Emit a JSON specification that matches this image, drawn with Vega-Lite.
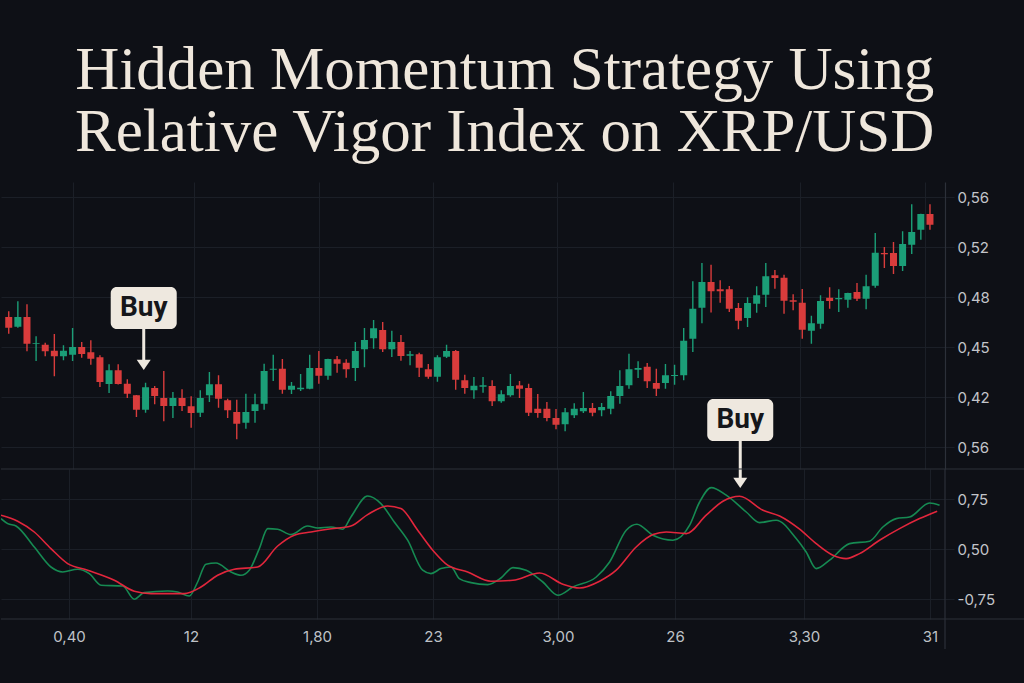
{
  "$schema": "https://vega.github.io/schema/vega-lite/v6.json",
  "background": "#0e1016",
  "padding": {"top": 40, "left": 0, "right": 0, "bottom": 45},
  "bounds": "flush",
  "title": {
    "text": ["Hidden Momentum Strategy Using", "Relative Vigor Index on XRP/USD"],
    "font": "Liberation Serif",
    "fontSize": 61,
    "fontWeight": "normal",
    "color": "#efe7dc",
    "lineHeight": 62,
    "anchor": "middle",
    "dx": -14,
    "offset": 18
  },
  "datasets": {
    "candles": [
      {"t":0,"o":0.464,"h":0.4686,"l":0.4506,"c":0.4554},
      {"t":1,"o":0.4562,"h":0.4766,"l":0.4555,"c":0.464},
      {"t":2,"o":0.464,"h":0.4742,"l":0.4366,"c":0.4426},
      {"t":3,"o":0.4426,"h":0.4486,"l":0.4288,"c":0.4432},
      {"t":4,"o":0.4418,"h":0.4434,"l":0.4326,"c":0.4366},
      {"t":5,"o":0.437,"h":0.4504,"l":0.4166,"c":0.4326},
      {"t":6,"o":0.4326,"h":0.4414,"l":0.4294,"c":0.437},
      {"t":7,"o":0.4338,"h":0.4552,"l":0.4288,"c":0.44},
      {"t":8,"o":0.44,"h":0.444,"l":0.4314,"c":0.4344},
      {"t":9,"o":0.4358,"h":0.4454,"l":0.4258,"c":0.4306},
      {"t":10,"o":0.4318,"h":0.4334,"l":0.408,"c":0.412},
      {"t":11,"o":0.4104,"h":0.4262,"l":0.4032,"c":0.4214},
      {"t":12,"o":0.4214,"h":0.4262,"l":0.41,"c":0.4104},
      {"t":13,"o":0.4106,"h":0.4142,"l":0.3992,"c":0.4026},
      {"t":14,"o":0.4014,"h":0.4016,"l":0.384,"c":0.3898},
      {"t":15,"o":0.3898,"h":0.4114,"l":0.3874,"c":0.4078},
      {"t":16,"o":0.4072,"h":0.4088,"l":0.3942,"c":0.4008},
      {"t":17,"o":0.3992,"h":0.4208,"l":0.3806,"c":0.3928},
      {"t":18,"o":0.3928,"h":0.404,"l":0.3832,"c":0.3992},
      {"t":19,"o":0.3992,"h":0.4062,"l":0.3888,"c":0.3928},
      {"t":20,"o":0.3926,"h":0.4006,"l":0.3754,"c":0.3872},
      {"t":21,"o":0.3874,"h":0.4054,"l":0.384,"c":0.3992},
      {"t":22,"o":0.4014,"h":0.42,"l":0.396,"c":0.4102},
      {"t":23,"o":0.4102,"h":0.4174,"l":0.3914,"c":0.3986},
      {"t":24,"o":0.3974,"h":0.3986,"l":0.3832,"c":0.3894},
      {"t":25,"o":0.388,"h":0.3978,"l":0.3662,"c":0.3786},
      {"t":26,"o":0.3794,"h":0.4026,"l":0.3746,"c":0.388},
      {"t":27,"o":0.3888,"h":0.4026,"l":0.3794,"c":0.3942},
      {"t":28,"o":0.3946,"h":0.4266,"l":0.3898,"c":0.4208},
      {"t":29,"o":0.4218,"h":0.4338,"l":0.4128,"c":0.4226},
      {"t":30,"o":0.4226,"h":0.4304,"l":0.4026,"c":0.4058},
      {"t":31,"o":0.4058,"h":0.412,"l":0.4024,"c":0.409},
      {"t":32,"o":0.4062,"h":0.4184,"l":0.4048,"c":0.4074},
      {"t":33,"o":0.4066,"h":0.4338,"l":0.4062,"c":0.4232},
      {"t":34,"o":0.4232,"h":0.4368,"l":0.4106,"c":0.417},
      {"t":35,"o":0.417,"h":0.4306,"l":0.4138,"c":0.4304},
      {"t":36,"o":0.4302,"h":0.4328,"l":0.4194,"c":0.4266},
      {"t":37,"o":0.4274,"h":0.4302,"l":0.4154,"c":0.4222},
      {"t":38,"o":0.4232,"h":0.444,"l":0.4128,"c":0.4368},
      {"t":39,"o":0.4382,"h":0.4552,"l":0.4238,"c":0.4456},
      {"t":40,"o":0.447,"h":0.4616,"l":0.4386,"c":0.455},
      {"t":41,"o":0.4536,"h":0.46,"l":0.436,"c":0.4382},
      {"t":42,"o":0.4382,"h":0.453,"l":0.432,"c":0.444},
      {"t":43,"o":0.444,"h":0.4496,"l":0.429,"c":0.4328},
      {"t":44,"o":0.433,"h":0.4368,"l":0.4254,"c":0.4342},
      {"t":45,"o":0.4342,"h":0.4354,"l":0.416,"c":0.4234},
      {"t":46,"o":0.4222,"h":0.4264,"l":0.4146,"c":0.4162},
      {"t":47,"o":0.4162,"h":0.4334,"l":0.4122,"c":0.4318},
      {"t":48,"o":0.4322,"h":0.4418,"l":0.4312,"c":0.4368},
      {"t":49,"o":0.4368,"h":0.4376,"l":0.4058,"c":0.4138},
      {"t":50,"o":0.4134,"h":0.4178,"l":0.4026,"c":0.4072},
      {"t":51,"o":0.4054,"h":0.416,"l":0.3986,"c":0.409},
      {"t":52,"o":0.4082,"h":0.416,"l":0.4034,"c":0.4094},
      {"t":53,"o":0.4088,"h":0.4134,"l":0.3928,"c":0.3966},
      {"t":54,"o":0.3966,"h":0.4054,"l":0.3954,"c":0.4022},
      {"t":55,"o":0.4014,"h":0.4184,"l":0.4002,"c":0.4088},
      {"t":56,"o":0.4093,"h":0.4128,"l":0.3992,"c":0.4066},
      {"t":57,"o":0.4072,"h":0.4106,"l":0.3848,"c":0.3874},
      {"t":58,"o":0.3906,"h":0.4024,"l":0.3834,"c":0.3872},
      {"t":59,"o":0.3906,"h":0.396,"l":0.3806,"c":0.3832},
      {"t":60,"o":0.3832,"h":0.3904,"l":0.3742,"c":0.3778},
      {"t":61,"o":0.3782,"h":0.3912,"l":0.3726,"c":0.3878},
      {"t":62,"o":0.3854,"h":0.395,"l":0.3832,"c":0.3906},
      {"t":63,"o":0.3886,"h":0.404,"l":0.3872,"c":0.3912},
      {"t":64,"o":0.3912,"h":0.3952,"l":0.3846,"c":0.3874},
      {"t":65,"o":0.3894,"h":0.3952,"l":0.3846,"c":0.392},
      {"t":66,"o":0.3906,"h":0.4046,"l":0.3862,"c":0.4008},
      {"t":67,"o":0.4008,"h":0.4214,"l":0.3946,"c":0.4088},
      {"t":68,"o":0.4094,"h":0.4346,"l":0.4066,"c":0.4222},
      {"t":69,"o":0.4218,"h":0.4286,"l":0.4152,"c":0.4232},
      {"t":70,"o":0.4242,"h":0.4272,"l":0.4072,"c":0.4126},
      {"t":71,"o":0.4112,"h":0.4226,"l":0.4008,"c":0.4066},
      {"t":72,"o":0.4112,"h":0.4264,"l":0.4066,"c":0.4174},
      {"t":73,"o":0.4168,"h":0.4258,"l":0.4098,"c":0.4176},
      {"t":74,"o":0.4174,"h":0.4552,"l":0.4134,"c":0.445},
      {"t":75,"o":0.4466,"h":0.4926,"l":0.436,"c":0.4706},
      {"t":76,"o":0.4714,"h":0.5072,"l":0.459,"c":0.492},
      {"t":77,"o":0.492,"h":0.5058,"l":0.4676,"c":0.4846},
      {"t":78,"o":0.4862,"h":0.4934,"l":0.4754,"c":0.4846},
      {"t":79,"o":0.4862,"h":0.4888,"l":0.468,"c":0.4706},
      {"t":80,"o":0.4712,"h":0.4752,"l":0.4542,"c":0.461},
      {"t":81,"o":0.4632,"h":0.4798,"l":0.456,"c":0.4752},
      {"t":82,"o":0.4746,"h":0.4886,"l":0.4674,"c":0.4814},
      {"t":83,"o":0.4818,"h":0.5072,"l":0.472,"c":0.4966},
      {"t":84,"o":0.4974,"h":0.5016,"l":0.4866,"c":0.4952},
      {"t":85,"o":0.4954,"h":0.4978,"l":0.4666,"c":0.477},
      {"t":86,"o":0.4774,"h":0.4822,"l":0.4694,"c":0.4762},
      {"t":87,"o":0.4754,"h":0.4864,"l":0.4466,"c":0.4538},
      {"t":88,"o":0.453,"h":0.465,"l":0.4426,"c":0.459},
      {"t":89,"o":0.4586,"h":0.4814,"l":0.4546,"c":0.4768},
      {"t":90,"o":0.4794,"h":0.4878,"l":0.4706,"c":0.4768},
      {"t":91,"o":0.4782,"h":0.4862,"l":0.468,"c":0.4792},
      {"t":92,"o":0.4778,"h":0.4834,"l":0.4714,"c":0.4832},
      {"t":93,"o":0.484,"h":0.4912,"l":0.4768,"c":0.4786},
      {"t":94,"o":0.4786,"h":0.4978,"l":0.4702,"c":0.4886},
      {"t":95,"o":0.489,"h":0.5312,"l":0.4874,"c":0.5154},
      {"t":96,"o":0.5152,"h":0.52,"l":0.5032,"c":0.5142},
      {"t":97,"o":0.5152,"h":0.524,"l":0.4984,"c":0.5048},
      {"t":98,"o":0.5048,"h":0.5326,"l":0.5008,"c":0.5224},
      {"t":99,"o":0.5218,"h":0.5542,"l":0.5144,"c":0.532},
      {"t":100,"o":0.5338,"h":0.5466,"l":0.5258,"c":0.5464},
      {"t":101,"o":0.5464,"h":0.5542,"l":0.5338,"c":0.5378}
    ],
    "notes": [
      {"t":14.8,"p":0.4712,"tip":0.4216,"label":"Buy"},
      {"t":80.2,"p":0.3816,"tip":0.3272,"label":"Buy"}
    ],
    "rvi": [
      {"s":"RVI","t":-0.3,"v":0.652},{"s":"RVI","t":0.43,"v":0.627},{"s":"RVI","t":1.33,"v":0.615},
      {"s":"RVI","t":3.31,"v":0.51},{"s":"RVI","t":5.12,"v":0.41},{"s":"RVI","t":6.39,"v":0.385},
      {"s":"RVI","t":8.02,"v":0.399},{"s":"RVI","t":9.28,"v":0.377},{"s":"RVI","t":10.55,"v":0.319},
      {"s":"RVI","t":12.9,"v":0.315},{"s":"RVI","t":14.16,"v":0.249},{"s":"RVI","t":15.24,"v":0.282},
      {"s":"RVI","t":17.78,"v":0.29},{"s":"RVI","t":18.86,"v":0.285},{"s":"RVI","t":20.12,"v":0.265},
      {"s":"RVI","t":21.03,"v":0.335},{"s":"RVI","t":21.93,"v":0.424},{"s":"RVI","t":23.02,"v":0.43},
      {"s":"RVI","t":24.65,"v":0.385},{"s":"RVI","t":25.73,"v":0.369},{"s":"RVI","t":26.63,"v":0.394},
      {"s":"RVI","t":27.72,"v":0.502},{"s":"RVI","t":28.63,"v":0.602},{"s":"RVI","t":29.71,"v":0.599},
      {"s":"RVI","t":31.15,"v":0.572},{"s":"RVI","t":32.96,"v":0.615},{"s":"RVI","t":34.05,"v":0.605},
      {"s":"RVI","t":35.49,"v":0.61},{"s":"RVI","t":36.76,"v":0.599},{"s":"RVI","t":37.66,"v":0.66},
      {"s":"RVI","t":39.47,"v":0.765},{"s":"RVI","t":40.91,"v":0.727},{"s":"RVI","t":42.36,"v":0.635},
      {"s":"RVI","t":43.81,"v":0.544},{"s":"RVI","t":45.44,"v":0.394},{"s":"RVI","t":46.34,"v":0.377},
      {"s":"RVI","t":47.42,"v":0.402},{"s":"RVI","t":48.51,"v":0.41},{"s":"RVI","t":49.41,"v":0.352},
      {"s":"RVI","t":50.68,"v":0.332},{"s":"RVI","t":52.49,"v":0.322},{"s":"RVI","t":53.93,"v":0.355},
      {"s":"RVI","t":55.23,"v":0.407},{"s":"RVI","t":56.67,"v":0.394},{"s":"RVI","t":58.48,"v":0.335},
      {"s":"RVI","t":60.11,"v":0.269},{"s":"RVI","t":61.74,"v":0.31},{"s":"RVI","t":64.27,"v":0.36},
      {"s":"RVI","t":65.72,"v":0.435},{"s":"RVI","t":67.52,"v":0.594},{"s":"RVI","t":68.68,"v":0.624},
      {"s":"RVI","t":70.42,"v":0.569},{"s":"RVI","t":72.59,"v":0.544},{"s":"RVI","t":74.4,"v":0.619},
      {"s":"RVI","t":75.48,"v":0.735},{"s":"RVI","t":76.74,"v":0.807},{"s":"RVI","t":78.37,"v":0.769},
      {"s":"RVI","t":80.54,"v":0.685},{"s":"RVI","t":81.99,"v":0.632},{"s":"RVI","t":83.79,"v":0.644},
      {"s":"RVI","t":85.96,"v":0.552},{"s":"RVI","t":87.04,"v":0.485},{"s":"RVI","t":88.13,"v":0.402},
      {"s":"RVI","t":89.58,"v":0.444},{"s":"RVI","t":91.75,"v":0.527},{"s":"RVI","t":93.92,"v":0.539},
      {"s":"RVI","t":95.36,"v":0.61},{"s":"RVI","t":96.81,"v":0.652},{"s":"RVI","t":98.26,"v":0.66},
      {"s":"RVI","t":100.43,"v":0.73},{"s":"RVI","t":101.51,"v":0.719},
      {"s":"Signal","t":-0.3,"v":0.669},{"s":"Signal","t":1.51,"v":0.639},{"s":"Signal","t":3.31,"v":0.585},
      {"s":"Signal","t":5.12,"v":0.502},{"s":"Signal","t":6.93,"v":0.427},{"s":"Signal","t":9.1,"v":0.394},
      {"s":"Signal","t":11.99,"v":0.344},{"s":"Signal","t":14.16,"v":0.289},{"s":"Signal","t":15.97,"v":0.277},
      {"s":"Signal","t":19.58,"v":0.277},{"s":"Signal","t":21.39,"v":0.31},{"s":"Signal","t":23.2,"v":0.369},
      {"s":"Signal","t":25.0,"v":0.399},{"s":"Signal","t":27.54,"v":0.41},{"s":"Signal","t":29.71,"v":0.515},
      {"s":"Signal","t":31.51,"v":0.569},{"s":"Signal","t":33.32,"v":0.585},{"s":"Signal","t":35.13,"v":0.599},
      {"s":"Signal","t":37.66,"v":0.615},{"s":"Signal","t":39.47,"v":0.672},{"s":"Signal","t":41.64,"v":0.715},
      {"s":"Signal","t":43.08,"v":0.702},{"s":"Signal","t":44.9,"v":0.594},{"s":"Signal","t":46.7,"v":0.485},
      {"s":"Signal","t":48.15,"v":0.419},{"s":"Signal","t":50.32,"v":0.385},{"s":"Signal","t":52.85,"v":0.339},
      {"s":"Signal","t":55.23,"v":0.344},{"s":"Signal","t":58.13,"v":0.38},{"s":"Signal","t":60.65,"v":0.324},
      {"s":"Signal","t":62.46,"v":0.305},{"s":"Signal","t":64.63,"v":0.339},{"s":"Signal","t":66.44,"v":0.394},
      {"s":"Signal","t":68.6,"v":0.51},{"s":"Signal","t":70.42,"v":0.572},{"s":"Signal","t":71.86,"v":0.585},
      {"s":"Signal","t":74.03,"v":0.577},{"s":"Signal","t":76.2,"v":0.669},{"s":"Signal","t":78.01,"v":0.739},
      {"s":"Signal","t":79.82,"v":0.764},{"s":"Signal","t":82.35,"v":0.694},{"s":"Signal","t":84.16,"v":0.665},
      {"s":"Signal","t":86.33,"v":0.599},{"s":"Signal","t":88.13,"v":0.527},{"s":"Signal","t":89.94,"v":0.469},
      {"s":"Signal","t":91.38,"v":0.452},{"s":"Signal","t":92.83,"v":0.477},{"s":"Signal","t":95.0,"v":0.544},
      {"s":"Signal","t":97.17,"v":0.602},{"s":"Signal","t":99.34,"v":0.652},{"s":"Signal","t":101.25,"v":0.689}
    ],
    "frame": [{"k": 1}]
  },
  "spacing": 0,
  "vconcat": [
    {
      "width": 944,
      "height": 287,
      "encoding": {
        "x": {
          "field": "t", "type": "quantitative",
          "scale": {"domain": [-0.3, 102.1], "nice": false, "zero": false},
          "axis": {
            "values": [7.08, 20.31, 33.98, 46.56, 60.12, 72.81, 86.8, 100.47],
            "labels": false, "ticks": false, "domain": false, "grid": true,
            "gridColor": "#1b1f27", "title": null
          }
        }
      },
      "layer": [
        {
          "data": {"name": "candles"},
          "mark": {"type": "rule", "strokeWidth": 1.4},
          "encoding": {
            "y": {
              "field": "l", "type": "quantitative",
              "scale": {"domain": [0.3424, 0.572], "nice": false, "zero": false},
              "axis": {
                "orient": "right",
                "values": [0.56, 0.52, 0.48, 0.44, 0.40, 0.36],
                "labelExpr": "datum.value > 0.55 ? '0,56' : datum.value > 0.51 ? '0,52' : datum.value > 0.47 ? '0,48' : datum.value > 0.43 ? '0,45' : datum.value > 0.39 ? '0,42' : '0,56'",
                "grid": true, "gridColor": "#1b1f27",
                "tickColor": "#1b1f27", "tickSize": 9,
                "domain": true, "domainColor": "#2c3039", "domainWidth": 1.2,
                "labelColor": "#c3c5ca", "labelFont": "Inter", "labelFontSize": 15,
                "labelPadding": 3, "title": null
              }
            },
            "y2": {"field": "h"},
            "color": {"condition": {"test": "datum.c >= datum.o", "value": "#1b9e77"}, "value": "#d93c3c"}
          }
        },
        {
          "data": {"name": "candles"},
          "mark": {"type": "bar", "size": 7},
          "encoding": {
            "y": {
              "field": "o", "type": "quantitative",
              "scale": {"domain": [0.3424, 0.572], "nice": false, "zero": false},
              "axis": {
                "orient": "right",
                "values": [0.56, 0.52, 0.48, 0.44, 0.40, 0.36],
                "labelExpr": "datum.value > 0.55 ? '0,56' : datum.value > 0.51 ? '0,52' : datum.value > 0.47 ? '0,48' : datum.value > 0.43 ? '0,45' : datum.value > 0.39 ? '0,42' : '0,56'",
                "grid": true, "gridColor": "#1b1f27",
                "tickColor": "#1b1f27", "tickSize": 9,
                "domain": true, "domainColor": "#2c3039", "domainWidth": 1.2,
                "labelColor": "#c3c5ca", "labelFont": "Inter", "labelFontSize": 15,
                "labelPadding": 3, "title": null
              }
            },
            "y2": {"field": "c"},
            "color": {"condition": {"test": "datum.c >= datum.o", "value": "#1b9e77"}, "value": "#d93c3c"}
          }
        },
        {
          "data": {"name": "notes"},
          "mark": {"type": "rule", "strokeWidth": 3, "color": "#eee8df", "clip": false, "y2Offset": -8},
          "encoding": {
            "y": {
              "field": "p", "type": "quantitative",
              "scale": {"domain": [0.3424, 0.572], "nice": false, "zero": false},
              "axis": {
                "orient": "right",
                "values": [0.56, 0.52, 0.48, 0.44, 0.40, 0.36],
                "labelExpr": "datum.value > 0.55 ? '0,56' : datum.value > 0.51 ? '0,52' : datum.value > 0.47 ? '0,48' : datum.value > 0.43 ? '0,45' : datum.value > 0.39 ? '0,42' : '0,56'",
                "grid": true, "gridColor": "#1b1f27",
                "tickColor": "#1b1f27", "tickSize": 9,
                "domain": true, "domainColor": "#2c3039", "domainWidth": 1.2,
                "labelColor": "#c3c5ca", "labelFont": "Inter", "labelFontSize": 15,
                "labelPadding": 3, "title": null
              }
            },
            "y2": {"field": "tip"}
          }
        },
        {
          "data": {"name": "notes"},
          "mark": {"type": "point", "shape": "M-1,-1.45L1,-1.45L0,0Z", "size": 196, "filled": true, "opacity": 1, "color": "#eee8df", "strokeWidth": 0, "clip": false},
          "encoding": {
            "y": {
              "field": "tip", "type": "quantitative",
              "scale": {"domain": [0.3424, 0.572], "nice": false, "zero": false},
              "axis": {
                "orient": "right",
                "values": [0.56, 0.52, 0.48, 0.44, 0.40, 0.36],
                "labelExpr": "datum.value > 0.55 ? '0,56' : datum.value > 0.51 ? '0,52' : datum.value > 0.47 ? '0,48' : datum.value > 0.43 ? '0,45' : datum.value > 0.39 ? '0,42' : '0,56'",
                "grid": true, "gridColor": "#1b1f27",
                "tickColor": "#1b1f27", "tickSize": 9,
                "domain": true, "domainColor": "#2c3039", "domainWidth": 1.2,
                "labelColor": "#c3c5ca", "labelFont": "Inter", "labelFontSize": 15,
                "labelPadding": 3, "title": null
              }
            }
          }
        },
        {
          "data": {"name": "notes"},
          "mark": {"type": "rect", "width": 66, "height": 42, "cornerRadius": 6, "color": "#eee8df", "clip": false},
          "encoding": {
            "y": {
              "field": "p", "type": "quantitative",
              "scale": {"domain": [0.3424, 0.572], "nice": false, "zero": false},
              "axis": {
                "orient": "right",
                "values": [0.56, 0.52, 0.48, 0.44, 0.40, 0.36],
                "labelExpr": "datum.value > 0.55 ? '0,56' : datum.value > 0.51 ? '0,52' : datum.value > 0.47 ? '0,48' : datum.value > 0.43 ? '0,45' : datum.value > 0.39 ? '0,42' : '0,56'",
                "grid": true, "gridColor": "#1b1f27",
                "tickColor": "#1b1f27", "tickSize": 9,
                "domain": true, "domainColor": "#2c3039", "domainWidth": 1.2,
                "labelColor": "#c3c5ca", "labelFont": "Inter", "labelFontSize": 15,
                "labelPadding": 3, "title": null
              }
            }
          }
        },
        {
          "data": {"name": "notes"},
          "mark": {"type": "text", "font": "Roboto", "fontSize": 28, "fontWeight": "bold", "color": "#15161a", "align": "center", "baseline": "middle", "clip": false},
          "encoding": {
            "y": {
              "field": "p", "type": "quantitative",
              "scale": {"domain": [0.3424, 0.572], "nice": false, "zero": false},
              "axis": {
                "orient": "right",
                "values": [0.56, 0.52, 0.48, 0.44, 0.40, 0.36],
                "labelExpr": "datum.value > 0.55 ? '0,56' : datum.value > 0.51 ? '0,52' : datum.value > 0.47 ? '0,48' : datum.value > 0.43 ? '0,45' : datum.value > 0.39 ? '0,42' : '0,56'",
                "grid": true, "gridColor": "#1b1f27",
                "tickColor": "#1b1f27", "tickSize": 9,
                "domain": true, "domainColor": "#2c3039", "domainWidth": 1.2,
                "labelColor": "#c3c5ca", "labelFont": "Inter", "labelFontSize": 15,
                "labelPadding": 3, "title": null
              }
            },
            "text": {"field": "label"}
          }
        }
      ]
    },
    {
      "width": 944,
      "height": 150,
      "layer": [
        {
          "data": {"name": "rvi"},
          "mark": {"type": "line", "interpolate": "monotone", "strokeWidth": 1.6, "clip": true},
          "encoding": {
            "x": {
              "field": "t", "type": "quantitative",
              "scale": {"domain": [-0.3, 102.1], "nice": false, "zero": false},
              "axis": {
                "values": [7.08, 20.31, 33.98, 46.56, 60.12, 72.81, 86.8, 100.47],
                "labelExpr": "datum.value < 14 ? '0,40' : datum.value < 27 ? '12' : datum.value < 40 ? '1,80' : datum.value < 53 ? '23' : datum.value < 66 ? '3,00' : datum.value < 80 ? '26' : datum.value < 93 ? '3,30' : '31'",
                "ticks": false, "domain": false, "grid": true, "gridColor": "#1b1f27",
                "labelColor": "#bfc2c7", "labelFont": "Inter", "labelFontSize": 15,
                "labelPadding": 10, "title": null
              }
            },
            "y": {
              "field": "v", "type": "quantitative",
              "scale": {"domain": [0.15, 0.9], "nice": false, "zero": false},
              "axis": {
                "orient": "right",
                "values": [0.75, 0.5, 0.25],
                "labelExpr": "datum.value > 0.7 ? '0,75' : datum.value > 0.4 ? '0,50' : '-0,75'",
                "grid": true, "gridColor": "#1b1f27",
                "tickColor": "#1b1f27", "tickSize": 9,
                "domain": false,
                "labelColor": "#c3c5ca", "labelFont": "Inter", "labelFontSize": 15,
                "labelPadding": 3, "title": null
              }
            },
            "color": {
              "field": "s", "type": "nominal",
              "scale": {"domain": ["RVI", "Signal"], "range": ["#168a52", "#e2263c"]},
              "legend": null
            }
          }
        },
        {
          "data": {"name": "frame"},
          "mark": {"type": "rule", "color": "#2c3039", "strokeWidth": 1.2, "clip": false},
          "encoding": {
            "x": {"datum": -0.3, "type": "quantitative"},
            "x2": {"datum": 112},
            "y": {"datum": 0.9, "type": "quantitative"}
          }
        },
        {
          "data": {"name": "frame"},
          "mark": {"type": "rule", "color": "#2c3039", "strokeWidth": 1.2, "clip": false},
          "encoding": {
            "x": {"datum": -0.3, "type": "quantitative"},
            "x2": {"datum": 112},
            "y": {"datum": 0.15, "type": "quantitative"}
          }
        },
        {
          "data": {"name": "frame"},
          "mark": {"type": "rule", "color": "#2c3039", "strokeWidth": 1.2, "clip": false},
          "encoding": {
            "x": {"datum": 102.1, "type": "quantitative"},
            "y": {"datum": 0.9, "type": "quantitative"},
            "y2": {"datum": 0.0}
          }
        }
      ]
    }
  ],
  "config": {
    "view": {"stroke": null},
    "font": "Inter"
  }
}
